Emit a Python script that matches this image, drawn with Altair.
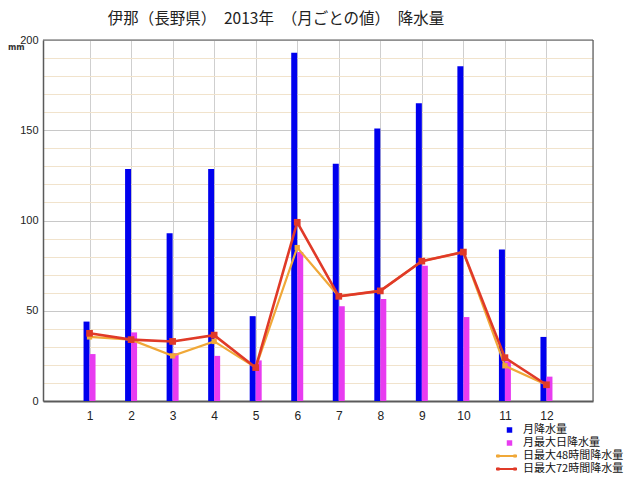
import altair as alt
import pandas as pd

months = list(range(1, 13))
monthly_total = [44.0, 128.5, 93.0, 128.5, 47.0, 193.0, 131.5, 151.0, 165.0, 185.5, 84.0, 35.5]
daily_max = [26.0, 38.0, 26.5, 25.0, 22.5, 82.5, 52.5, 56.5, 75.0, 46.5, 22.0, 13.5]
max_48h = [35.5, 34.0, 25.0, 33.0, 18.5, 85.0, 58.0, 61.0, 77.5, 82.5, 19.5, 9.0]
max_72h = [37.5, 34.0, 33.0, 36.5, 18.5, 99.0, 58.0, 61.0, 77.5, 82.5, 24.0, 9.0]

title_text = "伊那（長野県）　2013年　（月ごとの値）　降水量"
unit_text = "mm"
legend_labels = ["月降水量", "月最大日降水量", "日最大48時間降水量", "日最大72時間降水量"]

BLUE = "#0000ee"
MAGENTA = "#e83cf0"
ORANGE = "#f0a838"
RED = "#e03a28"
FRAME = "#5a5a5a"
JP = "Noto Sans CJK JP"

df = pd.DataFrame({
    "month": months,
    "monthly": monthly_total,
    "daily": daily_max,
    "h48": max_48h,
    "h72": max_72h,
})

xscale = alt.Scale(domain=[0, 13], nice=False, zero=False)
yscale = alt.Scale(domain=[0, 200], nice=False)

x_axis = alt.Axis(
    values=months, grid=True, gridColor="#cfcfcf", gridWidth=1,
    ticks=False, domain=True, domainColor=FRAME, domainWidth=2, title=None,
    labelFontSize=12, labelFont="Liberation Sans", labelColor="#222",
    labelPadding=9, labelAngle=0,
)
y_axis = alt.Axis(
    values=list(range(0, 201, 10)), grid=True,
    gridColor={"condition": {"test": "datum.value % 50 === 0", "value": "#c8c8c8"}, "value": "#f1e3cc"},
    ticks=False, domain=True, domainColor=FRAME, domainWidth=1.5, title=None,
    labelFontSize=11, labelFont="Liberation Sans", labelColor="#222", labelPadding=5,
    labelExpr="datum.value % 50 === 0 ? datum.label : ''",
)


def X():
    return alt.X("month:Q", scale=xscale, axis=x_axis, title=None)


def Y(field):
    return alt.Y(f"{field}:Q", scale=yscale, axis=y_axis, title=None)


base = alt.Chart(df)

blue_bars = base.mark_bar(size=6, xOffset=-3, color=BLUE, orient="vertical").encode(
    x=X(), y=Y("monthly"))
mag_bars = base.mark_bar(size=6, xOffset=3, color=MAGENTA, orient="vertical").encode(
    x=X(), y=Y("daily"))
orange_line = base.mark_line(color=ORANGE, strokeWidth=2.2).encode(x=X(), y=Y("h48"))
orange_pts = base.mark_point(shape="square", filled=True, size=28, color=ORANGE, opacity=1).encode(
    x=X(), y=Y("h48"))
red_line = base.mark_line(color=RED, strokeWidth=2.6).encode(x=X(), y=Y("h72"))
red_pts = base.mark_point(shape="square", filled=True, size=45, color=RED, opacity=1).encode(
    x=X(), y=Y("h72"))

one = pd.DataFrame({"k": [0]})

frame_top = alt.Chart(one).mark_rule(color=FRAME, strokeWidth=1.2).encode(
    x=alt.value(0), x2=alt.value(550), y=alt.value(0))
frame_right = alt.Chart(one).mark_rule(color=FRAME, strokeWidth=1.2).encode(
    x=alt.value(550), y=alt.value(0), y2=alt.value(361))

title_mark = alt.Chart(one).mark_text(
    text=title_text, font=JP, fontSize=15.5, color="#222", align="center", baseline="middle"
).encode(x=alt.value(233), y=alt.value(-21))

unit_mark = alt.Chart(one).mark_text(
    text=unit_text, font="DejaVu Sans", fontSize=8, fontWeight="bold", color="#333",
    align="left", baseline="middle"
).encode(x=alt.value(-35), y=alt.value(8))

legend_layers = []
row_y = [390, 403, 416, 429]
sq_x = 466.5
line_x0, line_x1 = 453, 474
text_x = 480
for i, col in enumerate([BLUE, MAGENTA]):
    legend_layers.append(
        alt.Chart(one).mark_square(size=30, color=col, opacity=1).encode(
            x=alt.value(sq_x), y=alt.value(row_y[i])
        )
    )
for i, col in zip([2, 3], [ORANGE, RED]):
    legend_layers.append(
        alt.Chart(one).mark_rule(color=col, strokeWidth=2).encode(
            x=alt.value(line_x0), x2=alt.value(line_x1), y=alt.value(row_y[i])
        )
    )
    for px in (line_x0 + 2, line_x1 - 2):
        legend_layers.append(
            alt.Chart(one).mark_square(size=10, color=col, opacity=1).encode(
                x=alt.value(px), y=alt.value(row_y[i])
            )
        )
for i, lab in enumerate(legend_labels):
    legend_layers.append(
        alt.Chart(one).mark_text(
            text=lab, font=JP, fontSize=11, color="#111", align="left", baseline="middle"
        ).encode(x=alt.value(text_x), y=alt.value(row_y[i]))
    )

chart = alt.layer(
    blue_bars, mag_bars, orange_line, orange_pts, red_line, red_pts,
    frame_top, frame_right, title_mark, unit_mark, *legend_layers
).properties(
    width=550, height=361,
    autosize=alt.AutoSizeParams(type="none"),
    padding={"left": 35, "top": 32, "right": 39, "bottom": 75},
).configure_view(
    stroke=FRAME, strokeWidth=1.2
).configure(background="white")

chart.save("out.html", embed_options={"renderer": "svg", "actions": False})
